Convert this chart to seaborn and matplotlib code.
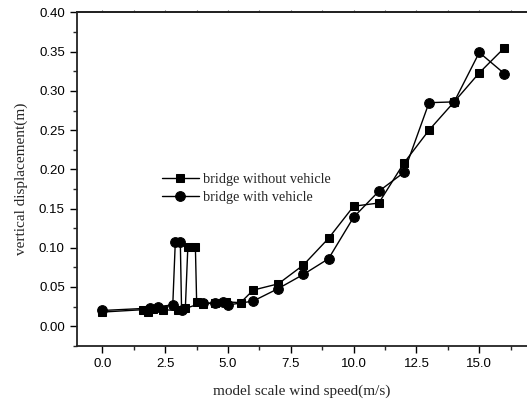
import matplotlib
matplotlib.use("Agg")
import matplotlib.pyplot as plt
import seaborn as sns
import pandas as pd
from matplotlib.ticker import MultipleLocator, FormatStrFormatter

# Wind speed (m/s) and vertical displacement (m) for each test case
speed_without = [0, 1.6, 1.8, 2.0, 2.4, 3.0, 3.3, 3.4, 3.7, 3.75, 4.0, 4.5,
                 4.9, 5.5, 6, 7, 8, 9, 10, 11, 12, 13, 14, 15, 16]
disp_without = [0.018, 0.021, 0.018, 0.022, 0.021, 0.020, 0.023, 0.101, 0.101,
                0.031, 0.028, 0.030, 0.031, 0.030, 0.046, 0.054, 0.078, 0.112,
                0.153, 0.157, 0.208, 0.250, 0.286, 0.323, 0.355]

speed_with = [0, 1.9, 2.2, 2.8, 2.9, 3.1, 3.15, 4.0, 4.5, 4.8, 5.0, 6, 7, 8,
              9, 10, 11, 12, 13, 14, 15, 16]
disp_with = [0.020, 0.023, 0.025, 0.027, 0.107, 0.107, 0.021, 0.030, 0.029,
             0.031, 0.027, 0.032, 0.048, 0.066, 0.086, 0.139, 0.172, 0.196,
             0.285, 0.286, 0.349, 0.322]

series_names = ["bridge without vehicle", "bridge with vehicle"]

df_a = pd.DataFrame({"speed": speed_without, "disp": disp_without})
df_b = pd.DataFrame({"speed": speed_with, "disp": disp_with})

sns.set_style("ticks")
plt.rcParams["font.family"] = ["Liberation Sans", "DejaVu Sans"]

fig = plt.figure(figsize=(5.27, 4.03), dpi=100)
ax = fig.add_axes([0.1467, 0.142, 0.8533, 0.827])

sns.lineplot(data=df_a, x="speed", y="disp", ax=ax, color="black",
             marker="s", markersize=6.3, markeredgecolor="black", linewidth=1.0,
             estimator=None, sort=False, label=series_names[0])
sns.lineplot(data=df_b, x="speed", y="disp", ax=ax, color="black",
             marker="o", markersize=7, markeredgecolor="black", linewidth=1.0,
             estimator=None, sort=False, label=series_names[1])

ax.set_xlim(-1, 16.9)
ax.set_ylim(-0.025, 0.40)
ax.xaxis.set_major_locator(MultipleLocator(2.5))
ax.xaxis.set_minor_locator(MultipleLocator(1.25))
ax.yaxis.set_major_locator(MultipleLocator(0.05))
ax.yaxis.set_minor_locator(MultipleLocator(0.025))
ax.xaxis.set_major_formatter(FormatStrFormatter("%.1f"))
ax.yaxis.set_major_formatter(FormatStrFormatter("%.2f"))

ax.tick_params(which="major", direction="out", length=5, width=1.0,
               labelsize=9.5, colors="black", pad=4)
ax.tick_params(which="minor", direction="out", length=3, width=1.0)

# short, faint ticks along the top frame line
ax_top = ax.secondary_xaxis("top")
ax_top.xaxis.set_major_locator(MultipleLocator(1.25))
ax_top.tick_params(direction="out", length=1.5, width=0.8, labeltop=False,
                   colors="#555555")
ax_top.spines["top"].set_linewidth(1.3)
ax_top.spines["top"].set_color("#222222")

for side in ["left", "bottom", "top"]:
    ax.spines[side].set_linewidth(1.3)
    ax.spines[side].set_color("#222222")
ax.spines["right"].set_visible(False)

serif = ["Liberation Serif", "DejaVu Serif"]
ax.set_xlabel("model scale wind speed(m/s)", fontsize=11, family=serif, labelpad=10)
ax.set_ylabel("vertical displacement(m)", fontsize=11, family=serif, labelpad=8)

leg = ax.legend(loc="upper left", bbox_to_anchor=(0.175, 0.535), frameon=False,
                prop={"family": serif, "size": 10.3}, handlelength=2.6,
                handletextpad=0.3, labelspacing=0.3, borderaxespad=0)

fig.savefig("out.png", dpi=100)
